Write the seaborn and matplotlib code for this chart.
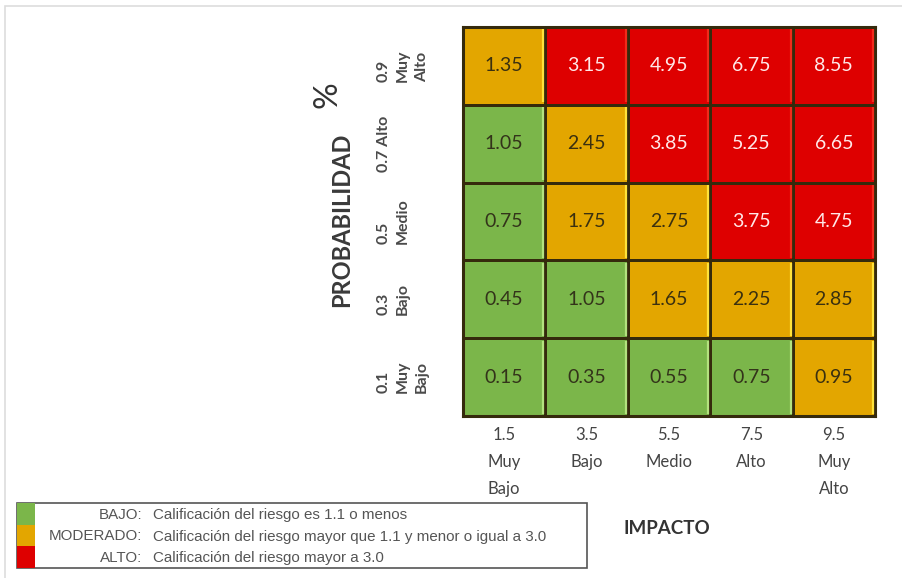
import matplotlib
matplotlib.use("Agg")
import matplotlib.pyplot as plt
from matplotlib.colors import ListedColormap
from matplotlib.patches import Rectangle
import numpy as np
import pandas as pd
import seaborn as sns

# Risk matrix data: probability rows (top = highest), impact columns
prob_labels = ["0.9\nMuy\nAlto", "0.7 Alto", "0.5\nMedio", "0.3\nBajo", "0.1\nMuy\nBajo"]
impact_labels = ["1.5\nMuy\nBajo", "3.5\nBajo", "5.5\nMedio", "7.5\nAlto", "9.5\nMuy\nAlto"]

row_09 = [1.35, 3.15, 4.95, 6.75, 8.55]
row_07 = [1.05, 2.45, 3.85, 5.25, 6.65]
row_05 = [0.75, 1.75, 2.75, 3.75, 4.75]
row_03 = [0.45, 1.05, 1.65, 2.25, 2.85]
row_01 = [0.15, 0.35, 0.55, 0.75, 0.95]

# Risk level of each cell: 0 = BAJO, 1 = MODERADO, 2 = ALTO
lvl_09 = [1, 2, 2, 2, 2]
lvl_07 = [0, 1, 2, 2, 2]
lvl_05 = [0, 1, 1, 2, 2]
lvl_03 = [0, 0, 1, 1, 1]
lvl_01 = [0, 0, 0, 0, 1]

legend_names = ["BAJO:", "MODERADO:", "ALTO:"]
legend_texts = [
    "Calificación del riesgo es 1.1 o menos",
    "Calificación del riesgo mayor que 1.1 y menor o igual a 3.0",
    "Calificación del riesgo mayor a 3.0",
]

GREEN, ORANGE, RED = "#7bb64a", "#e3a600", "#de0000"
level_colors = [GREEN, ORANGE, RED]
text_colors = ["#33331a", "#3a3010", "#ffe8e8"]

values = pd.DataFrame([row_09, row_07, row_05, row_03, row_01],
                      index=prob_labels, columns=impact_labels)
levels = pd.DataFrame([lvl_09, lvl_07, lvl_05, lvl_03, lvl_01],
                      index=prob_labels, columns=impact_labels)

sns.set_theme(style="white")
plt.rcParams["font.family"] = ["Lato", "DejaVu Sans"]

fig = plt.figure(figsize=(9.03, 5.78), dpi=100)
ax = fig.add_axes([0.5127, 0.2803, 0.4563, 0.673])

sns.heatmap(levels, cmap=ListedColormap(level_colors), vmin=-0.5, vmax=2.5,
            annot=values, fmt=".2f", cbar=False, linewidths=2.0,
            linecolor="#352a0c", annot_kws={"fontsize": 14}, ax=ax)

# colour each annotation according to its cell's risk level
flat_levels = levels.values.ravel()
for txt, lv in zip(ax.texts, flat_levels):
    txt.set_color(text_colors[lv])

# light bevel along the right edge of every cell
highlight = {0: "#b3e27e", 1: "#ffe23a", 2: "#f22a1a"}
nrows, ncols = levels.shape
for r in range(nrows):
    for c in range(ncols):
        lv = levels.iat[r, c]
        ax.plot([c + 0.975, c + 0.975], [r + 0.03, r + 0.97],
                color=highlight[lv], lw=1.6, solid_capstyle="butt", zorder=3)

for s in ax.spines.values():
    s.set_visible(True)
    s.set_color("#352a0c")
    s.set_linewidth(2.2)

ax.tick_params(axis="both", length=0)
ax.set_xticklabels(impact_labels, rotation=0, fontsize=12, color="#444444",
                   linespacing=1.85)
ax.tick_params(axis="x", pad=8)
ax.set_yticklabels(prob_labels, rotation=90, fontsize=11.5, color="#4a4a4a",
                   fontweight="bold", linespacing=1.45, ha="left", va="center")
ax.tick_params(axis="y", pad=62)
ax.set_xlabel("")
ax.set_ylabel("")

# axis titles
fig.text(342 / 903, 1 - 220 / 578, "PROBABILIDAD", rotation=90, ha="center",
         va="center", fontsize=17, fontweight="bold", color="#3a3a3a")
fig.text(328 / 903, 1 - 95 / 578, "%", rotation=90, ha="center", va="center",
         fontsize=24, color="#333333")
fig.text(667 / 903, 1 - 528 / 578, "IMPACTO", ha="center", va="center",
         fontsize=13.5, fontweight="bold", color="#333333")

# legend box with colour swatches
box_l, box_r, box_t, box_b = 17, 587, 503, 568
fig.patches.append(Rectangle((box_l / 903, 1 - box_b / 578), (box_r - box_l) / 903,
                             (box_b - box_t) / 578, transform=fig.transFigure,
                             fill=False, edgecolor="#555555", lw=1.2))
sw_h = (box_b - box_t) / 3
for i, (name, desc) in enumerate(zip(legend_names, legend_texts)):
    top = box_t + i * sw_h
    fig.patches.append(Rectangle((box_l / 903, 1 - (top + sw_h) / 578), 18 / 903,
                                 sw_h / 578, transform=fig.transFigure,
                                 facecolor=level_colors[i], edgecolor="none"))
    yc = 1 - (top + sw_h / 2 + 1) / 578
    fig.text(142 / 903, yc, name, ha="right", va="center", fontsize=10.9,
             color="#555555", family=["Liberation Sans Narrow", "Liberation Sans"])
    fig.text(153 / 903, yc, desc, ha="left", va="center", fontsize=10.9,
             color="#555555", family=["Liberation Sans Narrow", "Liberation Sans"])

# faint frame around the whole graphic
fig.patches.append(Rectangle((5 / 903, -0.01), 1.0, 1 - 6 / 578 + 0.01,
                             transform=fig.transFigure, fill=False,
                             edgecolor="#dddddd", lw=1.2))

fig.savefig("out.png", dpi=100)
